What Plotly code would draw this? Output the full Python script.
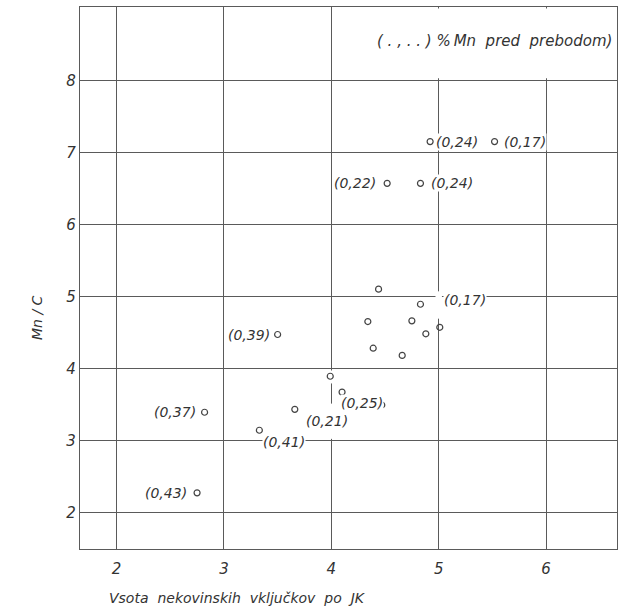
import plotly.graph_objects as go

# ---- data ----
x_vals = [4.92, 5.52, 4.52, 4.83, 4.44, 4.83, 4.34, 4.75, 5.01, 4.88, 4.39, 4.66,
          3.50, 3.99, 4.10, 4.47, 3.66, 3.33, 2.82, 2.75]
y_vals = [7.15, 7.15, 6.57, 6.57, 5.10, 4.89, 4.65, 4.66, 4.57, 4.48, 4.28, 4.18,
          4.47, 3.89, 3.67, 3.49, 3.43, 3.14, 3.39, 2.27]
# Mn content before blowing, attached to point index
mn_labels = {0: "(0,24)", 1: "(0,17)", 2: "(0,22)", 3: "(0,24)", 5: "(0,17)",
             12: "(0,39)", 14: "(0,25)", 16: "(0,21)", 17: "(0,41)", 18: "(0,37)", 19: "(0,43)"}
x_ticks = [2, 3, 4, 5, 6]
y_ticks = [2, 3, 4, 5, 6, 7, 8]
x_title = "Vsota\u00a0\u00a0nekovinskih\u00a0\u00a0vključkov\u00a0\u00a0po\u00a0\u00a0JK"
y_title = "Mn / C"
legend_text = "(\u00a0.\u00a0,\u00a0.\u00a0.\u00a0)\u00a0%\u2009Mn\u00a0\u00a0pred\u00a0\u00a0prebodom)"

# label offsets in pixels (layout only)
label_shift = {0: (27, 0), 1: (30, 0), 2: (-32, 0), 3: (32, 0), 5: (45, 4),
               12: (-29, 0), 14: (20, -11), 16: (32, -12), 17: (25, -12), 18: (-30, 0), 19: (-31, 0)}

INK = "#333333"
GRID = "#5a5a5a"
FONT = dict(family="DejaVu Sans", size=14, color=INK, style="italic")

W, H = 623, 609
L, R, T, B = 80, 6, 7, 60
pw, ph = W - L - R, H - T - B
def px_to_paper(px, py):
    return (px - L) / pw, (H - B - py) / ph

fig = go.Figure()
fig.add_trace(go.Scatter(
    x=x_vals, y=y_vals, mode="markers",
    marker=dict(symbol="circle-open", size=6, color="#444", line=dict(width=1.2, color="#444")),
    hoverinfo="skip", showlegend=False))

annotations = []
for i, txt in mn_labels.items():
    dx, dy = label_shift[i]
    annotations.append(dict(x=x_vals[i], y=y_vals[i], text=txt, showarrow=False,
                            xshift=dx, yshift=dy, font=FONT, bgcolor="white", borderpad=0,
                            xanchor="center", yanchor="middle"))

annotations.append(dict(x=6.63, y=8.55, xref="x", yref="y", text=legend_text, showarrow=False,
                        xanchor="right", yanchor="middle",
                        font=dict(family="DejaVu Sans", size=15, color=INK, style="italic")))
ax_, ay_ = px_to_paper(237, 598)
annotations.append(dict(x=ax_, y=ay_, xref="paper", yref="paper", text=x_title, showarrow=False,
                        xanchor="center", yanchor="middle", font=FONT))
bx_, by_ = px_to_paper(37, 318)
annotations.append(dict(x=bx_, y=by_, xref="paper", yref="paper", text=y_title, showarrow=False,
                        textangle=-90, xanchor="center", yanchor="middle", font=FONT))

shapes = [
    # blank area of the legend note
    dict(type="rect", xref="x", yref="y", x0=4.2, x1=6.64, y0=8.03, y1=9.0,
         fillcolor="white", line=dict(width=0), layer="between"),
    # interrupted gridline x=4 between 3 and 4
    dict(type="rect", xref="x", yref="y", x0=3.97, x1=4.03, y0=3.79, y1=3.97,
         fillcolor="white", line=dict(width=0), layer="between"),
    dict(type="rect", xref="x", yref="y", x0=3.97, x1=4.03, y0=3.02, y1=3.51,
         fillcolor="white", line=dict(width=0), layer="between"),
    # interrupted gridline x=5 near the cluster
    dict(type="rect", xref="x", yref="y", x0=4.97, x1=5.03, y0=4.69, y1=5.07,
         fillcolor="white", line=dict(width=0), layer="between"),
]

axis_common = dict(showgrid=True, gridcolor=GRID, gridwidth=1, zeroline=False,
                   showline=True, linecolor=GRID, linewidth=1.2, mirror=True,
                   ticks="", tickfont=dict(family="DejaVu Sans", size=15, color=INK, style="italic"))

fig.update_layout(
    width=W, height=H, margin=dict(l=L, r=R, t=T, b=B),
    paper_bgcolor="white", plot_bgcolor="white",
    xaxis=dict(range=[1.66, 6.66], tickvals=x_ticks, ticktext=[str(v) for v in x_ticks],
               ticklabelstandoff=6, **axis_common),
    yaxis=dict(range=[1.49, 9.02], tickvals=y_ticks, ticktext=[str(v) for v in y_ticks], **axis_common),
    annotations=annotations, shapes=shapes,
)

fig.write_html("out.html")
